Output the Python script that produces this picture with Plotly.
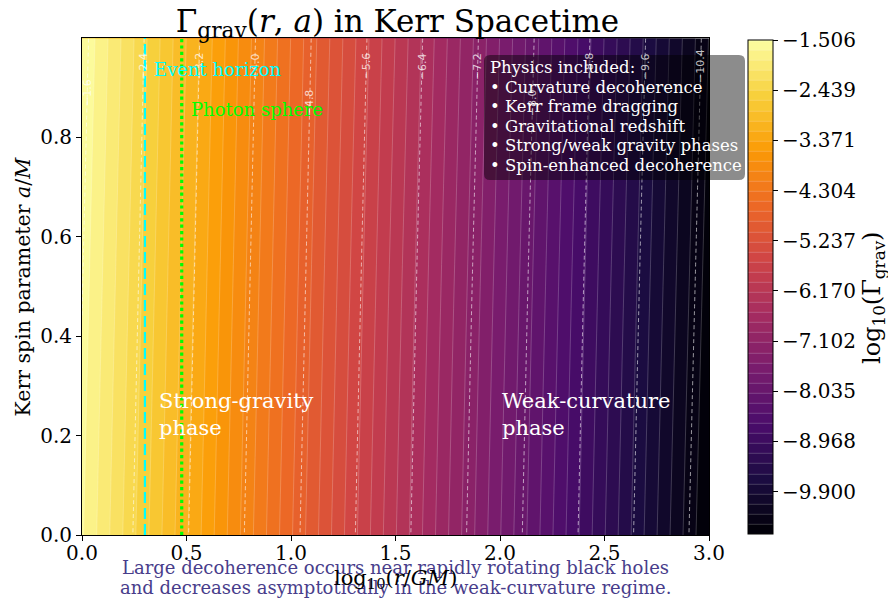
import numpy as np
import plotly.graph_objects as go

# ---- data ----
LOG_R = [0.0, 0.5, 1.0, 1.5, 2.0, 2.5, 3.0]          # log10(r/GM)
SPIN = [0.0, 0.5, 0.999]                              # a/M
# log10(Gamma_grav) (rows = spin, cols = log r)
GAMMA_A0 = [-1.67, -3.17, -4.67, -6.18, -7.68, -9.18, -10.69]
GAMMA_A05 = [-1.59, -3.09, -4.59, -6.10, -7.60, -9.10, -10.60]
GAMMA_A1 = [-1.506, -3.01, -4.51, -6.01, -7.51, -9.01, -10.51]
CBAR_TICKS = [-1.506, -2.439, -3.371, -4.304, -5.237, -6.170, -7.102, -8.035, -8.968, -9.900]
LINE_LEVELS = [-10.4, -9.6, -8.8, -8.0, -7.2, -6.4, -5.6, -4.8, -4.0, -3.2, -2.4, -1.6]
R_HORIZON = 2.0    # r/GM
R_PHOTON = 3.0     # r/GM

Z = np.array([GAMMA_A0, GAMMA_A05, GAMMA_A1])
zmin = float(Z.min())
zmax = float(Z.max())
FONT = "DejaVu Serif"

# plot-area geometry (pixels) used for placing decorations
W, H = 888, 602
L_, R_, T_, B_ = 82, 709, 38, 535
PW, PH = R_ - L_, B_ - T_


def px(xp):
    return (xp - L_) / PW


def py(yp):
    return 1 - (yp - T_) / PH


fig = go.Figure()

fig.add_trace(go.Contour(
    x=LOG_R, y=SPIN, z=Z,
    colorscale="Inferno", zmin=zmin, zmax=zmax,
    contours=dict(start=zmin, end=zmax, size=(zmax - zmin) / 49, coloring="fill"),
    line=dict(color="rgba(255,255,255,0.35)", width=0.6),
    colorbar=dict(
        x=px(748), xanchor="left", xref="paper", xpad=0, ypad=0,
        y=py((40 + 534) / 2), yanchor="middle", len=(534 - 40) / PH, thickness=25,
        outlinecolor="black", outlinewidth=1,
        tickmode="array", tickvals=CBAR_TICKS,
        ticktext=[f"\u2212{abs(v):.3f}" for v in CBAR_TICKS],
        ticks="outside", ticklen=5, tickcolor="black",
        tickfont=dict(family=FONT, size=20, color="black"),
    ),
    hoverinfo="skip",
))

fig.add_trace(go.Contour(
    x=LOG_R, y=SPIN, z=Z,
    contours=dict(start=min(LINE_LEVELS), end=max(LINE_LEVELS), size=0.8,
                  coloring="none", showlabels=False),
    line=dict(color="rgba(255,255,255,0.6)", width=1, dash="4px,3px"),
    showscale=False, hoverinfo="skip",
))

xh = np.log10(R_HORIZON)
xp = np.log10(R_PHOTON)
fig.add_trace(go.Scatter(x=[xh, xh], y=[0, 1.0], mode="lines",
                         line=dict(color="cyan", width=2.2, dash="11px,5px"),
                         showlegend=False, hoverinfo="skip"))
fig.add_trace(go.Scatter(x=[xp, xp], y=[0, 1.0], mode="lines",
                         line=dict(color="lime", width=3.2, dash="dot"),
                         showlegend=False, hoverinfo="skip"))

ann = []
# contour labels (placed on the line near the top, like clabel)
for lev in LINE_LEVELS:
    a_lab = 0.89 if lev == -1.6 else (0.87 if lev in (-4.8, -8.0) else 0.943)
    zrow = np.array([np.interp(a_lab, SPIN, Z[:, j]) for j in range(len(LOG_R))])
    xl = float(np.interp(lev, zrow[::-1], np.array(LOG_R)[::-1]))
    ann.append(dict(x=xl, y=a_lab, xref="x", yref="y", text=f"\u2212{abs(lev):.1f}",
                    textangle=-90, showarrow=False, xanchor="center", yanchor="middle",
                    font=dict(family="DejaVu Sans", size=11, color="rgba(255,255,255,0.75)")))

ann.append(dict(x=xh + 0.035, y=0.937, xref="x", yref="y", text="Event horizon",
                showarrow=False, xanchor="left", yanchor="middle",
                font=dict(family=FONT, size=18, color="cyan")))
ann.append(dict(x=xp + 0.035, y=0.856, xref="x", yref="y", text="Photon sphere",
                showarrow=False, xanchor="left", yanchor="middle",
                font=dict(family=FONT, size=18, color="lime")))
ann.append(dict(x=0.36, y=0.242, xref="x", yref="y", text="Strong-gravity<br>phase",
                showarrow=False, xanchor="left", yanchor="middle", align="left",
                font=dict(family=FONT, size=21, color="white")))
ann.append(dict(x=2.0, y=0.242, xref="x", yref="y", text="Weak-curvature<br>phase",
                showarrow=False, xanchor="left", yanchor="middle", align="left",
                font=dict(family=FONT, size=21, color="white")))

box_lines = ["Physics included:", "• Curvature decoherence", "• Kerr frame dragging",
             "• Gravitational redshift", "• Strong/weak gravity phases",
             "• Spin-enhanced decoherence"]
for i, t in enumerate(box_lines):
    ann.append(dict(x=px(488), y=py(68 + i * 19.4), xref="paper", yref="paper", text=t,
                    showarrow=False, xanchor="left", yanchor="middle",
                    font=dict(family=FONT, size=16.5, color="white")))

cap = ["Large decoherence occurs near rapidly rotating black holes",
       "and decreases asymptotically in the weak-curvature regime."]
for i, t in enumerate(cap):
    ann.append(dict(x=0.5, y=py(567 + i * 20), xref="paper", yref="paper", text=t,
                    showarrow=False, xanchor="center", yanchor="middle",
                    font=dict(family=FONT, size=18, color="#483D8B")))

# axis titles
ann.append(dict(x=0.5, y=py(579), xref="paper", yref="paper",
                text="log<sub>10</sub>(<i>r</i>/<i>GM</i>)", showarrow=False,
                xanchor="center", yanchor="middle", font=dict(family=FONT, size=21, color="black")))
ann.append(dict(x=px(22), y=0.5, xref="paper", yref="paper", textangle=-90,
                text="Kerr spin parameter <i>a</i>/<i>M</i>", showarrow=False,
                xanchor="center", yanchor="middle", font=dict(family=FONT, size=20.5, color="black")))
ann.append(dict(x=px(873), y=py(298), xref="paper", yref="paper", textangle=-90,
                text="log<sub>10</sub>(Γ<sub>grav</sub>)", showarrow=False,
                xanchor="center", yanchor="middle", font=dict(family=FONT, size=24, color="black")))

# rounded box behind the physics text (paper coords)
x0, x1, y0, y1 = px(484), px(745), py(180), py(55)
rx, ry = 6 / PW, 6 / PH
path = (f"M {x0+rx},{y0} L {x1-rx},{y0} Q {x1},{y0} {x1},{y0+ry} "
        f"L {x1},{y1-ry} Q {x1},{y1} {x1-rx},{y1} L {x0+rx},{y1} "
        f"Q {x0},{y1} {x0},{y1-ry} L {x0},{y0+ry} Q {x0},{y0} {x0+rx},{y0} Z")

fig.update_layout(
    width=W, height=H,
    margin=dict(l=L_, r=W - R_, t=T_, b=H - B_, autoexpand=False),
    paper_bgcolor="white", plot_bgcolor="white",
    font=dict(family=FONT, color="black"),
    title=dict(text="Γ<sub>grav</sub>(<i>r</i>, <i>a</i>) in Kerr Spacetime",
               x=0.5 + 2 / PW, xref="paper", xanchor="center",
               y=1 - 21 / H, yref="container", yanchor="middle",
               font=dict(family=FONT, size=31, color="black")),
    xaxis=dict(range=[0, 3.0], tickmode="array", tickvals=[0, 0.5, 1.0, 1.5, 2.0, 2.5, 3.0],
               ticktext=["0.0", "0.5", "1.0", "1.5", "2.0", "2.5", "3.0"],
               ticks="outside", ticklen=5, tickcolor="black", ticklabelstandoff=-5,
               showline=True, linecolor="black", linewidth=1, mirror=True,
               showgrid=False, zeroline=False,
               tickfont=dict(family=FONT, size=20)),
    yaxis=dict(range=[0, 1.0], tickmode="array", tickvals=[0, 0.2, 0.4, 0.6, 0.8],
               ticktext=["0.0", "0.2", "0.4", "0.6", "0.8"],
               ticks="outside", ticklen=5, tickcolor="black",
               showline=True, linecolor="black", linewidth=1, mirror=True,
               showgrid=False, zeroline=False,
               tickfont=dict(family=FONT, size=20)),
    annotations=ann,
    shapes=[dict(type="path", path=path, xref="paper", yref="paper",
                 fillcolor="rgba(0,0,0,0.45)", line=dict(width=0), layer="above")],
    showlegend=False,
)

fig.write_html("out.html", config={"displayModeBar": False},
               post_script="document.body.style.margin='0px';document.body.style.padding='0px';")
